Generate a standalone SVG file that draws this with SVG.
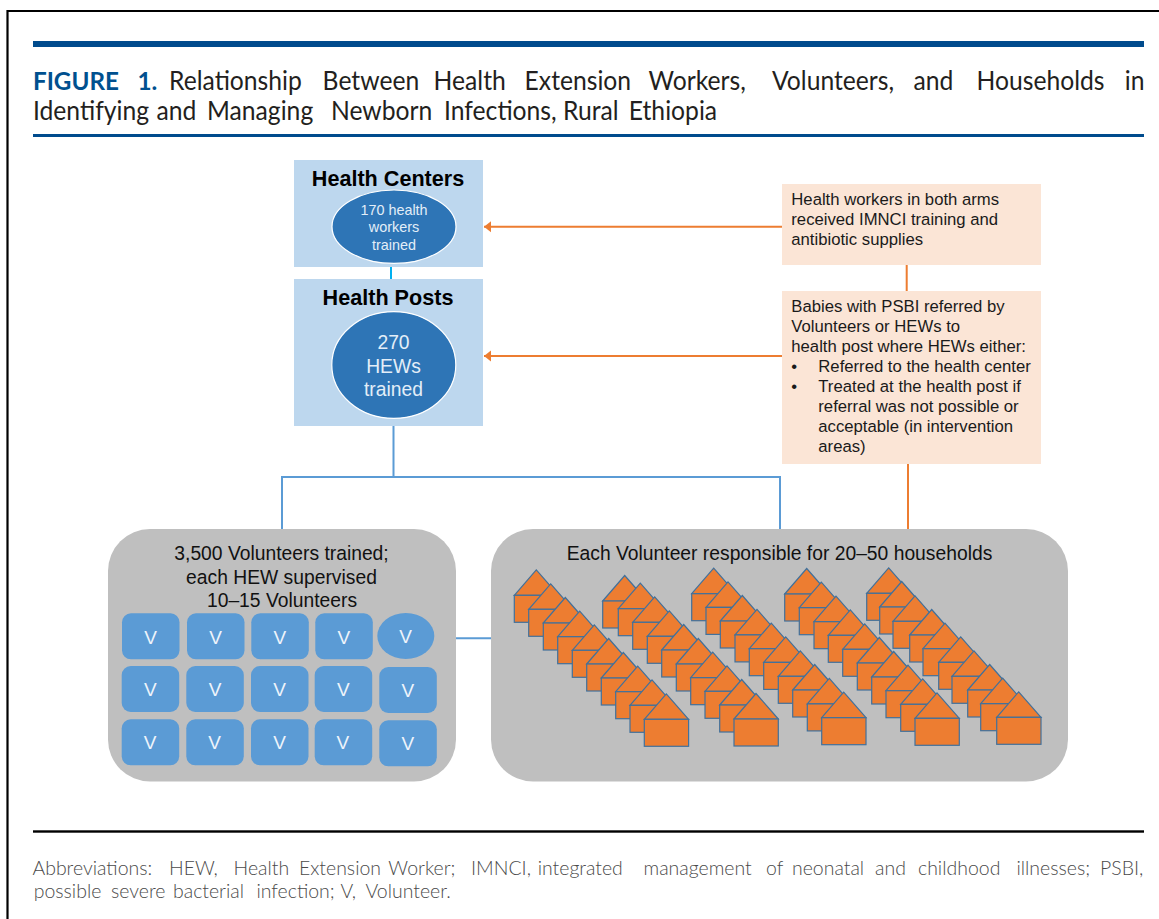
<svg xmlns="http://www.w3.org/2000/svg" width="1159" height="919" viewBox="0 0 1159 919">
<style>
text{font-family:"Liberation Sans",Arial,sans-serif}
.ti{font-family:Lato,"Open Sans",sans-serif;font-size:26px;fill:#231f20;font-weight:400}
.fig{font-family:Lato,"Open Sans",sans-serif;font-size:25.5px;font-weight:700;fill:#00508f}
.fn{font-family:Lato,"Open Sans",sans-serif;font-size:20.5px;fill:#4a4a4a;font-weight:300}
.bar{fill:#004b8d}
.tier{fill:#bdd7ee}
.oval{fill:#2e75b6;stroke:#fff;stroke-width:1.2}
.head{font-size:21.6px;font-weight:700;fill:#000;text-anchor:middle}
.w{fill:#e3eef8;text-anchor:middle}
.peach{fill:#fbe5d6}
.note{font-size:16.7px;fill:#1a1a1a}
.panel{fill:#bfbfbf}
.pt{font-size:19.3px;fill:#111;text-anchor:middle}
.vb{fill:#5b9bd5}
.v{font-size:19px;fill:#eef4fb;text-anchor:middle}
.blue{fill:none;stroke:#5b9bd5;stroke-width:2}
.cyan{fill:none;stroke:#00b0f0;stroke-width:2}
.org{fill:none;stroke:#ed7d31;stroke-width:2}
.hs{fill:#ed7d31;stroke:#41719c;stroke-width:1.2;stroke-linejoin:miter}
</style>
<defs>
<marker id="ah" markerUnits="userSpaceOnUse" markerWidth="8" markerHeight="12" refX="7" refY="6" orient="auto"><path d="M0 0.5L7 6L0 11.5Z" fill="#ed7d31"/></marker>
<g id="h"><path class="hs" d="M0 0L22 -25.5L44.3 0Z"/><rect class="hs" width="44.3" height="27"/></g>
<rect id="t" class="vb" width="57.5" height="46" rx="9"/>
</defs>
<rect width="1159" height="919" fill="#fff"/>
<path d="M1159 11H7.5V919" fill="none" stroke="#000" stroke-width="2.2"/>
<rect class="bar" x="33" y="41" width="1111" height="6"/>
<rect class="bar" x="33" y="134" width="1111" height="3"/>
<rect x="33" y="830.3" width="1111" height="2.4" fill="#000"/>
<g transform="scale(.95 1)">
<text class="ti" y="90.5"><tspan class="fig" x="34.7">FIGURE</tspan> <tspan class="fig" x="144.8">1.</tspan> <tspan x="177.9">Relationship</tspan> <tspan x="339.6">Between</tspan> <tspan x="456.4">Health</tspan> <tspan x="552.2">Extension</tspan> <tspan x="682.7">Workers,</tspan> <tspan x="812.6">Volunteers,</tspan> <tspan x="961.6">and</tspan> <tspan x="1027.9">Households</tspan> <tspan x="1184">in</tspan></text>
<text class="ti" y="120.5"><tspan x="34.7">Identifying</tspan> <tspan x="164.7">and</tspan> <tspan x="217.9">Managing</tspan> <tspan x="348.4">Newborn</tspan> <tspan x="467.4">Infections,</tspan> <tspan x="592.6">Rural</tspan> <tspan x="661.9">Ethiopia</tspan></text>
</g>
<g id="connectors">
<path class="cyan" d="M391 267V279"/>
<path class="blue" d="M393.5 426V477M282 530V477H780V530"/>
<path class="blue" d="M434 638.3H491"/>
<path class="org" d="M782 226.7H484" marker-end="url(#ah)"/>
<path class="org" d="M782 356H484" marker-end="url(#ah)"/>
<path class="org" d="M906.7 265V291M908 464V530"/>
</g>
<g id="health-centers"><rect class="tier" x="294" y="160" width="189" height="107"/><text class="head" x="388" y="186">Health Centers</text><ellipse class="oval" cx="394" cy="226.7" rx="62" ry="36.7"/><text class="w" font-size="14.4" x="394" y="215">170 health</text><text class="w" font-size="14.4" x="394" y="232">workers</text><text class="w" font-size="14.4" x="394" y="250">trained</text></g>
<g id="health-posts"><rect class="tier" x="294" y="279" width="189" height="147"/><text class="head" x="388" y="305">Health Posts</text><ellipse class="oval" cx="393.8" cy="365" rx="62" ry="53.3"/><text class="w" font-size="19.3" x="393.5" y="349">270</text><text class="w" font-size="19.3" x="393.5" y="373">HEWs</text><text class="w" font-size="19.3" x="393.5" y="396">trained</text></g>
<g id="note-training"><rect class="peach" x="782" y="184" width="259" height="81"/><text class="note" x="791.3"><tspan x="791.3" y="204.7">Health workers in both arms</tspan><tspan x="791.3" y="224.7">received IMNCI training and</tspan><tspan x="791.3" y="244.7">antibiotic supplies</tspan></text></g>
<g id="note-referral"><rect class="peach" x="782" y="291" width="259" height="173"/><text class="note"><tspan x="791.3" y="311.7">Babies with PSBI referred by</tspan><tspan x="791.3" y="331.7">Volunteers or HEWs to</tspan><tspan x="791.3" y="352">health post where HEWs either:</tspan><tspan x="791.3" y="372">•</tspan><tspan x="818.3" y="372">Referred to the health center</tspan><tspan x="791.3" y="392">•</tspan><tspan x="818.3" y="392">Treated at the health post if</tspan><tspan x="818.3" y="412">referral was not possible or</tspan><tspan x="818.3" y="432">acceptable (in intervention</tspan><tspan x="818.3" y="452">areas)</tspan></text></g>
<g id="volunteers"><rect class="panel" x="108" y="529" width="348" height="252.5" rx="42"/><text class="pt" x="281.5" y="559.5">3,500 Volunteers trained;</text><text class="pt" x="281.5" y="583.5">each HEW supervised</text><text class="pt" x="282" y="607">10–15 Volunteers</text>
<g id="v1"><use href="#t" x="122" y="613.3"/><text class="v" x="150.5" y="643.5">V</text></g>
<g id="v2"><use href="#t" x="187" y="613.3"/><text class="v" x="215.5" y="643.5">V</text></g>
<g id="v3"><use href="#t" x="251.3" y="613.3"/><text class="v" x="279.8" y="643.5">V</text></g>
<g id="v4"><use href="#t" x="315.3" y="613.3"/><text class="v" x="343.8" y="643.5">V</text></g>
<g id="v5"><ellipse class="vb" cx="405.8" cy="636" rx="28.5" ry="23"/><text class="v" x="405.7" y="642.5">V</text></g>
<g id="v6"><use href="#t" x="121.7" y="666"/><text class="v" x="150.3" y="695.5">V</text></g>
<g id="v7"><use href="#t" x="186.3" y="666"/><text class="v" x="215" y="695.5">V</text></g>
<g id="v8"><use href="#t" x="251" y="666"/><text class="v" x="279.5" y="695.5">V</text></g>
<g id="v9"><use href="#t" x="314.7" y="666"/><text class="v" x="343.3" y="695.5">V</text></g>
<g id="v10"><use href="#t" x="379.3" y="667"/><text class="v" x="407.8" y="696.5">V</text></g>
<g id="v11"><use href="#t" x="121.7" y="719.3"/><text class="v" x="150" y="748.5">V</text></g>
<g id="v12"><use href="#t" x="186.3" y="719.3"/><text class="v" x="214.7" y="748.5">V</text></g>
<g id="v13"><use href="#t" x="251" y="719.3"/><text class="v" x="279.5" y="748.5">V</text></g>
<g id="v14"><use href="#t" x="314.7" y="719.3"/><text class="v" x="342.8" y="748.5">V</text></g>
<g id="v15"><use href="#t" x="379.3" y="720.3"/><text class="v" x="407.8" y="749.5">V</text></g>
</g>
<g id="households"><rect class="panel" x="491" y="529" width="577" height="252.5" rx="42"/><text class="pt" x="779.5" y="560">Each Volunteer responsible for 20–50 households</text>
<g id="row1"><use href="#h" x="514.3" y="595.3"/><use href="#h" x="528.7" y="609.3"/><use href="#h" x="543.3" y="623"/><use href="#h" x="557.7" y="636.7"/><use href="#h" x="572.3" y="650.3"/><use href="#h" x="586.7" y="664"/><use href="#h" x="601.3" y="678"/><use href="#h" x="615.7" y="691.7"/><use href="#h" x="630" y="705.3"/><use href="#h" x="644.3" y="719.3"/></g>
<g id="row2"><use href="#h" x="602.7" y="601"/><use href="#h" x="618.3" y="608.7"/><use href="#h" x="632.7" y="622.3"/><use href="#h" x="647.3" y="636.3"/><use href="#h" x="661.7" y="650"/><use href="#h" x="676.3" y="664"/><use href="#h" x="690.7" y="677.7"/><use href="#h" x="705" y="691.3"/><use href="#h" x="719.7" y="705"/><use href="#h" x="734" y="719"/></g>
<g id="row3"><use href="#h" x="691.7" y="593.7"/><use href="#h" x="706" y="607.4"/><use href="#h" x="720.3" y="621"/><use href="#h" x="735" y="634.9"/><use href="#h" x="749.3" y="648.7"/><use href="#h" x="763.7" y="662.4"/><use href="#h" x="778.3" y="676.3"/><use href="#h" x="792.7" y="690"/><use href="#h" x="807.3" y="703.9"/><use href="#h" x="821.7" y="717.7"/></g>
<g id="row4"><use href="#h" x="784.7" y="594"/><use href="#h" x="799.3" y="607.7"/><use href="#h" x="814" y="621.7"/><use href="#h" x="828.3" y="635.3"/><use href="#h" x="842.7" y="649.3"/><use href="#h" x="857.3" y="663"/><use href="#h" x="871.7" y="677"/><use href="#h" x="886" y="690.7"/><use href="#h" x="900.7" y="704.3"/><use href="#h" x="915" y="718.3"/></g>
<g id="row5"><use href="#h" x="866.7" y="593.3"/><use href="#h" x="879.7" y="607"/><use href="#h" x="893" y="621.3"/><use href="#h" x="909.7" y="635"/><use href="#h" x="923" y="648.7"/><use href="#h" x="938.7" y="662.3"/><use href="#h" x="952" y="676.3"/><use href="#h" x="967.7" y="690"/><use href="#h" x="980.7" y="703.7"/><use href="#h" x="996.7" y="717.3"/></g>
</g>
<g transform="scale(.95 1)">
<text class="fn" y="875"><tspan x="34.2">Abbreviations:</tspan> <tspan x="177.9">HEW,</tspan> <tspan x="245.8">Health</tspan> <tspan x="314.7">Extension</tspan> <tspan x="408.8">Worker;</tspan> <tspan x="495.8">IMNCI,</tspan> <tspan x="566">integrated</tspan> <tspan x="677.4">management</tspan> <tspan x="806.3">of</tspan> <tspan x="833.7">neonatal</tspan> <tspan x="921.1">and</tspan> <tspan x="966.3">childhood</tspan> <tspan x="1069.9">illnesses;</tspan> <tspan x="1157.9">PSBI,</tspan></text>
<text class="fn" y="898"><tspan x="35.5">possible</tspan> <tspan x="116.8">severe</tspan> <tspan x="182.1">bacterial</tspan> <tspan x="269.9">infection;</tspan> <tspan x="358.5">V,</tspan> <tspan x="384.7">Volunteer.</tspan></text>
</g>
</svg>
